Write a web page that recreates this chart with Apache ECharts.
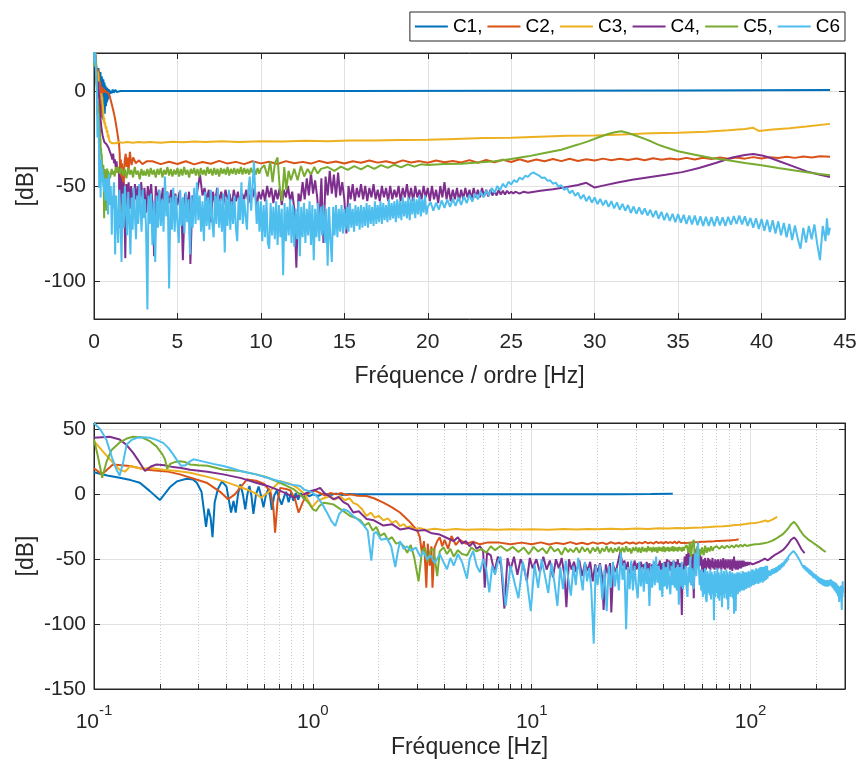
<!DOCTYPE html>
<html><head><meta charset="utf-8">
<script src="https://cdn.jsdelivr.net/npm/echarts@6/dist/echarts.min.js"></script>
<style>html,body{margin:0;padding:0;background:#fff}#c{width:860px;height:764px}</style>
</head><body><div id="c"></div>
<script>
// ---------- DATA (frequency in Hz, magnitude in dB) ----------
const seriesNames = ['C1','C2','C3','C4','C5','C6'];
const orders = [1,2,3,4,5,6];           // top plot: x = frequency / order

const c1 = [[0.1,17],[0.115,14.5],[0.131,12.8],[0.147,11],[0.162,9],[0.18,2.5],[0.2,-4.4],[0.211,0.5],[0.222,5.4],[0.239,10],[0.265,12],[0.283,11.5],[0.295,9],[0.31,2],[0.325,-25],[0.333,-11],[0.341,-18],[0.348,-33],[0.356,-6],[0.368,4],[0.384,10],[0.403,6],[0.423,-14],[0.434,-5],[0.444,-14],[0.455,0],[0.466,7.7],[0.479,0],[0.491,-11.5],[0.502,0],[0.513,6.5],[0.524,-1],[0.535,-15],[0.55,0],[0.565,6],[0.58,-1],[0.595,-10],[0.611,0],[0.627,4.5],[0.638,-2],[0.649,-12],[0.666,-1],[0.684,3],[0.702,-3],[0.72,-8],[0.738,-2],[0.755,2],[0.775,-6],[0.795,1.5],[0.815,-5],[0.835,1],[0.857,-4],[0.88,1],[0.905,-3],[0.93,0.5],[0.96,-1.5],[1.0,0],[1.06,-1.2],[1.12,0.8],[1.19,-0.9],[1.27,0.6],[1.36,-0.5],[1.46,0.3],[1.6,0],[2,0],[4,0],[8,0],[15,0],[25,0.1],[35,0.3],[44.1,0.5]];

const c2 = [[0.1,20],[0.104,18],[0.108,15.4],[0.114,18.5],[0.122,23],[0.146,21.8],[0.174,19],[0.215,17.7],[0.247,15.4],[0.327,9],[0.38,1.5],[0.41,-3.8],[0.44,0],[0.47,6],[0.5,11.5],[0.55,10.5],[0.6,8],[0.64,2],[0.66,-10],[0.672,-29.5],[0.69,-5],[0.71,5],[0.76,4],[0.79,3],[0.83,-4],[0.86,-14],[0.9,-6],[0.94,0],[0.98,2],[1.02,3],[1.08,1],[1.14,-1],[1.2,1],[1.28,0],[1.35,1],[1.42,-0.5],[1.49,0],[1.6,-1],[1.76,-1.3],[1.9,-3],[2.1,-6.4],[2.3,-10],[2.5,-14],[2.65,-18],[2.8,-22],[2.9,-25],[3.0,-28],[3.08,-33],[3.15,-45],[3.22,-36],[3.3,-72],[3.35,-38],[3.42,-55],[3.48,-40],[3.52,-72],[3.6,-41],[3.7,-36],[3.8,-33],[3.9,-40],[4.0,-35],[4.15,-42],[4.3,-32],[4.5,-39],[4.7,-35],[5.0,-38],[5.4,-36.5],[5.8,-38.5],[6.3,-37],[7,-37],[8,-38.5],[9,-37.2],[10,-38.4],[11,-37],[12,-38.6],[13,-37.4],[14,-38.3],[15,-36.8],[16,-38.2],[17,-37.3],[18,-38.5],[19,-37],[20,-38.1],[21,-37.2],[22,-38.4],[23,-36.9],[24,-38],[25,-37.3],[26,-38.2],[27,-36.8],[28,-37.9],[29,-37.1],[30,-38.2],[31,-37],[32,-37.8],[33,-36.6],[34,-37.7],[35,-37],[36,-38],[37,-36.5],[38,-37.6],[39,-36.9],[40,-37.8],[41,-36.6],[42,-37.5],[43,-36.8],[44,-37.6],[45,-36.4],[46,-37.8],[47,-36.3],[48,-37.5],[49,-36.2],[50,-37.4],[51,-35.9],[52,-37.2],[53,-36.1],[54,-37],[55,-35.8],[56,-36.9],[57,-35.7],[58,-36.8],[59,-35.9],[60,-36.6],[61,-35.6],[62,-36.5],[63,-35.7],[64,-36.3],[65,-35.5],[66,-36.4],[67,-35.4],[68,-36.2],[69,-35.5],[70,-36],[71,-35.2],[72,-36],[73,-35.1],[74,-35.8],[75,-35],[76,-35.7],[77,-35],[78,-35.6],[79,-34.8],[80,-35.5],[81,-34.8],[82,-35.3],[83,-34.6],[84,-35.2],[85,-34.5],[86,-35],[87,-34.4],[88.2,-34.6]];

const c3 = [[0.1,41],[0.11,33],[0.122,24.4],[0.131,19],[0.139,17.5],[0.146,21.8],[0.158,20.5],[0.167,19.5],[0.178,20.5],[0.207,19],[0.24,18],[0.275,16.7],[0.33,13.5],[0.39,10.2],[0.45,6.5],[0.5,3.8],[0.55,0.5],[0.58,-2.6],[0.64,3],[0.71,10.2],[0.79,8],[0.85,5],[0.92,0],[0.99,-10],[1.05,-5],[1.12,-3],[1.2,-1.5],[1.27,-4],[1.33,-1.3],[1.4,-4.5],[1.47,-3],[1.53,-6.5],[1.59,-7.7],[1.67,-11],[1.76,-16.7],[1.84,-14],[1.92,-18],[2.0,-16.5],[2.1,-20],[2.2,-18.5],[2.3,-22],[2.4,-20.5],[2.5,-24.4],[2.6,-23],[2.7,-25.5],[2.8,-24.5],[2.9,-26.9],[3.1,-26],[3.3,-27.5],[3.6,-26.5],[4,-27.5],[4.5,-26.7],[5,-27.3],[6,-26.8],[7,-27.2],[8,-26.8],[9,-27.1],[10,-26.9],[12,-27.2],[14,-26.7],[16,-27],[18,-26.6],[20,-26.9],[23,-26.5],[26,-26.8],[30,-26.4],[34,-26.6],[38,-26.2],[42,-26.4],[46,-26],[50,-26.1],[55,-25.8],[60,-25.6],[65,-25.2],[70,-24.8],[75,-24.6],[80,-24.1],[85,-23.6],[90,-23.4],[95,-22.9],[100,-22.3],[105,-22],[110,-21.4],[114,-20.7],[117,-20],[118.5,-19.4],[119.5,-21],[122,-20.3],[125,-19.6],[128,-18.7],[132.3,-17.3]];

const c4 = [[0.1,43.6],[0.118,44.4],[0.131,42.3],[0.141,38],[0.151,32],[0.161,25],[0.171,18],[0.182,21.5],[0.193,23],[0.21,22.5],[0.23,21],[0.25,20.3],[0.275,19],[0.33,17.5],[0.39,15.4],[0.47,12.5],[0.55,9],[0.62,6.5],[0.683,3.8],[0.75,1],[0.82,-2.6],[0.86,-1],[0.91,0],[0.97,2.5],[1.04,3.8],[1.08,5],[1.13,1],[1.18,-1],[1.24,-3.8],[1.31,-2],[1.38,-6],[1.45,-8],[1.53,-14],[1.62,-13],[1.76,-19],[1.9,-20],[2.1,-24],[2.3,-23],[2.5,-27],[2.75,-26],[3.0,-28],[3.25,-27.5],[3.5,-30],[3.8,-31],[4.15,-34],[4.4,-36],[4.6,-33],[4.8,-38],[5.0,-36],[5.2,-40],[5.4,-37],[5.6,-42],[5.8,-40],[6.0,-44],[6.1,-72],[6.25,-45],[6.5,-47],[6.75,-60],[7.0,-48],[7.25,-55],[7.5,-88],[7.75,-49],[8.0,-58],[8.3,-48],[8.6,-62],[8.9,-50],[9.2,-56],[9.5,-67],[9.8,-49],[10.1,-57],[10.5,-50],[10.9,-60],[11.3,-48],[11.7,-58],[12.1,-51],[12.5,-64],[12.9,-50],[13.3,-57],[13.7,-49],[14.1,-62],[14.4,-87],[14.8,-50],[15.2,-58],[15.6,-52],[16.0,-60],[16.5,-51],[17.0,-63],[17.5,-53],[18.0,-59],[18.5,-52],[19.0,-67],[19.5,-54],[20.0,-60],[20.5,-53],[21.0,-64],[21.3,-89],[21.8,-54],[22.3,-61],[22.8,-53],[23.1,-91],[23.6,-55],[24.2,-60],[24.8,-52],[25.4,-44],
[26.0,-55],[26.5,-51],[27.0,-58],[27.5,-52],[28.0,-69],[28.5,-53],[29.0,-59],[29.5,-51],[30.0,-58],[30.5,-53],
[31.0,-60],[31.5,-52],[32.0,-57],[32.5,-54],[33.0,-61],[33.5,-52],[34.0,-58],[34.5,-53],[35.0,-62],[35.5,-54],
[36.0,-57],[36.5,-52],[37.0,-59],[37.5,-54],[38.0,-56],[38.5,-51],[39.0,-61],[39.5,-53],[40.0,-57],[40.5,-52],
[41.0,-58],[41.5,-50],[42.0,-56],[42.5,-51],[43.0,-59],[43.5,-52],[44.0,-57],[44.5,-51],[45.0,-60],[45.5,-52],
[46.0,-56],[46.5,-50],[47.0,-58],[47.5,-53],[48.0,-62],[48.5,-93],[49.0,-54],[49.5,-58],[50.0,-48],[50.5,-57],
[51.0,-46],[51.5,-55],[52.0,-43],[52.5,-54],[53.0,-47],[53.5,-56],[54.0,-70],[54.5,-46],[55.0,-80],[55.5,-45],
[56.0,-55],[56.5,-42],[57.0,-54],[57.5,-44],[58.0,-56],[58.5,-43],[59.0,-55],[59.5,-48],[60.0,-57],[60.5,-75],
[61.0,-50],[61.5,-57],[62.0,-49],[62.5,-58],[63.0,-51],[63.5,-56],[64.0,-49],[64.5,-57],[65.0,-50],[65.5,-58],
[66.0,-51],[66.5,-56],[67.0,-49],[67.5,-57],[68.0,-52],[68.5,-58],[69.0,-50],[69.5,-56],[70.0,-51],[70.5,-58],
[71.0,-50],[71.5,-57],[72.0,-52],[72.5,-56],[73.0,-50],[73.5,-58],[74.0,-51],[74.5,-56],[75.0,-49],[75.5,-57],
[76.0,-51],[76.5,-58],[77.0,-50],[77.5,-56],[78.0,-52],[78.5,-57],[79.0,-50],[79.5,-56],[80.0,-51],[80.5,-58],
[81.0,-50],[81.5,-57],[82.0,-52],[82.5,-59],[83.0,-50],[83.5,-56],[84.0,-48],[84.5,-57],[85.0,-51],[85.5,-58],
[86.0,-52],[86.5,-57],[87.0,-51],[87.5,-58],[88.0,-52],[88.5,-57],[89.0,-51],[89.5,-56],[90.0,-52],[90.5,-57],
[91.0,-51],[91.5,-56],[92.0,-52],[92.5,-56],[93.0,-51],[93.5,-55.5],[94.0,-52],[94.5,-55.5],[95.0,-52],[95.5,-55],
[96.0,-52.5],[96.5,-55],[97.0,-52],[97.5,-54.5],[98.0,-52.5],[98.5,-54.5],[99.0,-52.5],[99.5,-54],[100.0,-53],[100.5,-54],
[101,-53],[102,-54],[103,-53],[104,-53.5],[107,-52.5],[110,-51.7],[113,-50.6],[116,-49.5],[118,-48.3],[120,-50.8],[122,-49.8],[125.5,-48.2],[129,-46.7],[133,-45.4],[137,-44.1],[141,-42.7],[145,-40.5],[149,-37.9],[153,-35],[156,-33.7],[158,-33.2],[160.4,-34.1],[162.5,-35.5],[164.4,-37.1],[167.6,-39.7],[170.8,-42.3],[173.5,-43.8],[176.4,-45.3]];

const c5 = [[0.1,42.3],[0.104,30],[0.109,12.8],[0.114,25],[0.12,34],[0.131,40],[0.141,43],[0.151,44.4],[0.165,44],[0.18,41],[0.193,37],[0.205,31],[0.211,27],[0.216,19.8],[0.223,23.5],[0.235,25],[0.247,25.6],[0.26,25],[0.275,23],[0.3,22.5],[0.33,22],[0.39,19],[0.466,18],[0.55,15.4],[0.62,13],[0.683,10],[0.75,7],[0.82,3.8],[0.91,-2.6],[0.96,-7],[1.0,-11.5],[1.035,-12.8],[1.07,-9],[1.12,-6.4],[1.18,-7],[1.24,-7.7],[1.3,-10],[1.38,-13],[1.48,-16.7],[1.56,-18],[1.65,-20],[1.72,-24],[1.8,-22],[1.88,-28],[1.95,-25],[2.03,-32],[2.12,-30],[2.2,-35],[2.3,-33],[2.4,-38],[2.5,-37],[2.6,-40],[2.7,-45],[2.8,-39],[2.9,-48],[3.04,-67],[3.15,-44],[3.25,-41],[3.35,-52],[3.45,-43],[3.56,-42],[3.7,-63],[3.8,-44],[3.95,-40.8],[4.1,-46],[4.25,-42],[4.4,-48],[4.6,-43],[4.8,-46],[5.07,-47],[5.3,-41],[5.6,-44],[5.9,-42],[6.2,-45],[6.5,-40],[6.8,-43],[7.2,-39.8],[7.7,-43.5],[8.2,-40.5],[8.7,-44.5],[9.2,-41],[9.7,-46],[10.2,-40.5],[10.7,-44],[11.2,-41.5],[11.7,-45.5],[12.2,-40],[12.7,-44],[13.2,-42],[13.7,-46.5],[14.2,-41],[14.7,-44.5],
[15.0,-42],[15.5,-44.5],[16.0,-41],[16.5,-45],[17.0,-40.5],[17.5,-44],[18.0,-41.5],[18.5,-45.5],[19.0,-41],[19.5,-44],
[20.0,-40.5],[20.5,-45.5],[21.0,-41.5],[21.5,-44],[22.0,-40],[22.5,-44.5],[23.0,-41],[23.5,-45],[24.0,-41.5],[24.5,-44],
[25.0,-40.5],[25.5,-45],[26.0,-41],[26.5,-44.5],[27.0,-40],[27.5,-44],[28.0,-41.5],[28.5,-45.5],[29.0,-41],[29.5,-43.5],
[30.0,-40.5],[30.5,-44.5],[31.0,-41],[31.5,-45],[32.0,-40.5],[32.5,-44],[33.0,-41.5],[33.5,-44.5],[34.0,-40],[34.5,-43.5],
[35.0,-41],[35.5,-44.5],[36.0,-40.5],[36.5,-44],[37.0,-41],[37.5,-45],[38.0,-40.5],[38.5,-43.5],[39.0,-41],[39.5,-44],
[40.0,-40],[40.5,-44.5],[41.0,-41],[41.5,-43.5],[42.0,-40.5],[42.5,-44],[43.0,-41],[43.5,-43.5],[44.0,-40],[44.5,-44],
[45.0,-40.5],[45.5,-43.5],[46.0,-41],[46.5,-44],[47.0,-40.5],[47.5,-43],[48.0,-41],[48.5,-44],[49.0,-40.5],[49.5,-43.5],
[50,-41],[51,-39],[52,-45],[52.8,-37],[53.5,-48],[54.2,-38],[55,-35],[55.6,-50],[56.3,-58],[57,-40],[57.6,-52],[58.3,-42],[59,-47],[60,-41],[61,-47],[62,-39.5],[63,-45],[64,-41],[65,-44],[66,-40],[67,-43.5],[68,-41],[70,-40],[72,-42],[74,-39.8],[76,-41.5],[78,-39.5],[80,-41.2],[82,-39.3],[84,-41],[86,-39],[88,-40.5],[90,-38.8],[92,-40.2],[94,-38.6],[96,-39.8],[98,-38.6],[100,-39],[105,-38.4],[110,-38.3],[115,-37.6],[120,-37],[125,-35.8],[130,-34.4],[135,-32.6],[140,-30.9],[145,-28.2],[148,-26.5],[151,-24.5],[154,-22.6],[156,-21.7],[158,-21.2],[160,-22.1],[162,-23.3],[165,-25.2],[167,-26.6],[169,-28.2],[171,-29.5],[175,-31.7],[180,-33.5],[185,-35.3],[190,-36.5],[195,-37.9],[200,-39.1],[205,-40.5],[210,-41.8],[215,-43.2],[220.5,-44.4]];

const c6 = [[0.1,55],[0.107,50],[0.114,42],[0.121,28],[0.126,20],[0.131,14.6],[0.136,25],[0.141,38.5],[0.149,42],[0.157,43.6],[0.168,44],[0.18,43.6],[0.193,42],[0.207,39.7],[0.218,36],[0.23,30.8],[0.24,26],[0.25,22],[0.255,20.5],[0.262,22.5],[0.272,25],[0.285,27],[0.31,25.6],[0.35,23.5],[0.39,21.8],[0.43,20],[0.466,18],[0.55,15.4],[0.66,11.5],[0.79,7.7],[0.875,6.5],[0.91,3.8],[0.96,2.5],[1.0,1.3],[1.04,-1.3],[1.1,-7],[1.16,-14],[1.21,-20],[1.265,-24.4],[1.32,-15],[1.38,-11.5],[1.45,-13],[1.53,-16.7],[1.62,-20],[1.7,-23.5],[1.78,-28],[1.85,-51],[1.9,-30],[1.95,-29],[2.05,-35],[2.18,-34],[2.28,-40],[2.38,-56],[2.44,-45],[2.5,-36],[2.6,-42],[2.7,-40],[2.8,-43.6],[2.95,-41],[3.1,-48],[3.2,-44],[3.32,-50],[3.45,-47],[3.6,-53],[3.8,-46],[3.95,-52],[4.1,-57.7],[4.25,-49],[4.4,-55],[4.6,-46],[4.8,-52],[5.06,-65],[5.2,-50],[5.4,-43.6],[5.6,-55],[5.8,-60],[6.0,-50],[6.2,-58],[6.4,-75.6],[6.6,-55],[6.8,-62],[7.0,-52],[7.2,-48],[7.6,-86],[8.0,-55],[8.4,-70],[8.7,-80],[9.1,-52],[9.5,-66],[9.9,-90],[10.3,-54],[10.7,-72],[11.1,-50],[11.5,-63],[11.9,-76],[12.3,-53],[12.7,-68],[13.1,-86],[13.5,-56],[13.9,-73],[14.3,-51],[14.7,-65],[15.1,-78],[15.5,-55],[15.9,-70],[16.3,-49],[16.7,-62],[17.1,-74],[17.5,-52],[17.9,-67],[18.3,-57],[18.7,-72],[19.2,-115],[19.6,-55],
[20.0,-70],[20.5,-54],[21.0,-81],[21.5,-58],[22.0,-90],[22.5,-55],[23.0,-72],[23.5,-52],[24.0,-71],[24.5,-57],
[25.0,-74],[25.5,-45],[26.0,-66],[26.5,-53],[27.0,-104],[27.5,-56],[28.0,-73],[28.5,-51],[29.0,-74],[29.5,-55],
[30.0,-70],[30.5,-80],[31.0,-52],[31.5,-71],[32.0,-56],[32.5,-75],[33.0,-53],[33.5,-69],[34.0,-57],[34.5,-86],
[35.0,-55],[35.5,-72],[36.0,-51],[36.5,-70],[37.0,-48],[37.5,-68],[38.0,-55],[38.5,-74],[39.0,-58],[39.5,-79],
[40.0,-53],[40.5,-71],[41.0,-56],[41.5,-73],[42.0,-52],[42.5,-69],[43.0,-77],[43.5,-55],[44.0,-70],[44.5,-51],
[45.0,-72],[45.5,-57],[46.0,-74],[46.5,-54],[47.0,-85],[47.5,-56],[48.0,-71],[48.5,-52],[49.0,-73],[49.5,-58],
[50.0,-70],[50.5,-55],[51.0,-72],[51.5,-79],[52.0,-56],[52.5,-68],[53.0,-48],[53.5,-70],[54.0,-57],[54.5,-66],
[55.0,-73],[55.5,-52],[56.0,-45],[56.5,-63],[57.0,-50],[57.5,-37],[58.0,-55],[58.5,-70],[59.0,-58],[59.5,-74],
[60.0,-58],[60.5,-79],[61.0,-60],[61.5,-77],[62.0,-57],[62.5,-80],[63.0,-83],[63.5,-59],[64.0,-76],[64.5,-61],
[65.0,-78],[65.5,-58],[66.0,-81],[66.5,-60],[67.0,-77],[67.5,-62],[68.0,-97],[68.5,-59],[69.0,-79],[69.5,-61],
[70.0,-76],[70.5,-57],[71.0,-80],[71.5,-60],[72.0,-82],[72.5,-62],[73.0,-78],[73.5,-58],[74.0,-87],[74.5,-61],
[75.0,-77],[75.5,-59],[76.0,-80],[76.5,-62],[77.0,-76],[77.5,-58],[78.0,-81],[78.5,-60],[79.0,-89],[79.5,-62],
[80.0,-77],[80.5,-59],[81.0,-79],[81.5,-61],[82.0,-76],[82.5,-60],[83.0,-80],[83.5,-62],[84.0,-92],[84.5,-61],
[85.0,-78],[85.5,-90],[86.0,-61],[86.5,-76],[87.0,-60],[87.5,-77],[88.0,-62],[88.5,-74],[89.0,-60],[89.5,-75],
[90.0,-62],[90.5,-73],[91.0,-61],[91.5,-74],[92.0,-59],[92.5,-72],[93.0,-62],[93.5,-74],[94.0,-60],[94.5,-71],
[95.0,-61],[95.5,-73],[96.0,-60],[96.5,-72],[97.0,-61],[97.5,-71],[98.0,-59],[98.5,-72],[99.0,-60],[99.5,-70],
[100.0,-61],[100.5,-71],[101.0,-58],[101.5,-70],[102.0,-60],[102.5,-69],[103.0,-58],[103.5,-70],[104.0,-59],[104.5,-68],
[105.0,-60],[105.5,-69],[106.0,-57],[106.5,-68],[107.0,-59],[107.5,-67],[108.0,-58],[108.5,-69],[109.0,-57],[109.5,-67],
[110.0,-58],[110.5,-68],[111.0,-56],[111.5,-66],[112.0,-58],[112.5,-67],[113.0,-56],[113.5,-68],[114.0,-57],[114.5,-65],
[115.0,-56],[115.5,-67],[116.0,-57],[116.5,-65],[117.0,-55],[117.5,-66],[118.0,-57],[118.5,-64],[119.0,-55],[119.5,-65],
[120,-61],[121,-58.5],[122,-63],[123,-58.8],[124,-62.4],[125,-57.6],[126,-61.5],[127,-57.2],[128,-61],[129,-56.8],
[130,-60.5],[131,-56],[132,-60],[133,-55.5],[134,-59],[135,-54.6],[136,-58.2],[137,-54],[138,-57],[139,-53],
[140,-56],[141,-52.4],[142,-55],[143,-51],[144,-53.6],[145,-50],[146,-52.2],[147,-48.8],[148,-50.8],[149,-47.8],
[150,-49.2],[151,-46.8],[152,-48],[153,-45.5],[154,-46.6],[155,-44.6],[156,-45.2],[157,-43.6],[158,-42.8],[159,-43.8],
[160,-44.5],[161,-45.8],[162,-45.5],[163,-47.2],[164,-47],[165,-48.8],[166,-48.2],[167,-50.3],[168,-49.6],[169,-52],
[170,-51],[171,-53.8],[172,-52.4],[173,-55.2],[174,-53.5],[175,-56.8],[176,-54.6],[177,-58],[178,-55.4],[179,-58.8],
[180,-56],[181,-59.6],[182,-56.8],[183,-60.2],[184,-57.5],[185,-61],[186,-58],[187,-61.8],[188,-58.6],[189,-62.5],
[190,-59.4],[191,-63],[192,-60],[193,-64.2],[194,-60.8],[195,-64.6],[196,-61.2],[197,-65],[198,-61.8],[199,-65.5],
[200,-62.5],[201,-66.4],[202,-63],[203,-67.2],[204,-63.6],[205,-68],[206,-64.2],[207,-68.4],[208,-64.6],[209,-69],
[210,-64.8],[211,-69.3],[212,-65.2],[213,-70],[214,-65.5],[215,-70.2],[216,-65.6],[217,-70.6],[218,-66],[219,-71],
[220,-66.2],[221,-71],[222,-66.4],[223,-71.2],[224,-66],[225,-70.8],[226,-66.5],[227,-71],[228,-66.2],[229,-70.4],
[230,-65.8],[231,-70],[232,-65.5],[233,-70.2],[234,-66],[235,-71],[236,-66.8],[237,-72],[238,-67],[239,-72.6],
[240,-67.4],[241,-73.5],[242,-67.8],[243,-74.2],[244,-68],[245,-75],[246,-68.6],[247,-76],[248,-69.5],[249,-77],
[250,-70],[251,-78.5],[252,-70.8],[253,-77.6],[254,-83],[255,-72],[256,-79.8],[257,-71],[258,-78],[259,-70.2],
[260,-80.5],[261,-89],[262,-71],[263,-79],[263.5,-67],[264,-76],[264.6,-72]];

// ---------- AXIS TICKS ----------
const topXRange = [0, 45];
const topYRange = [-120, 20];
const topYTicks = [-100, -50, 0];
const bottomXRange = [0.1, 270];
const bottomYRange = [-150, 55];
const bottomYTicks = [-150, -100, -50, 0, 50];
const logMajorTicks = [0.1, 1, 10, 100];
const logMinorTicks = [0.2,0.3,0.4,0.5,0.6,0.7,0.8,0.9,2,3,4,5,6,7,8,9,20,30,40,50,60,70,80,90,200];

// ---------- STYLE ----------
const colors = ['#0072BD','#D95319','#EDB120','#7E2F8E','#77AC30','#4DBEEE'];
const AX = '#262626', GRIDC = '#e1e1e1', MINORC = '#cdcdcd';
const FONT = '"Liberation Sans", Arial, Helvetica, sans-serif';

const allData = [c1, c2, c3, c4, c5, c6];
const series = [];

function gridLines(name, xi, yi, items, style) {
  return {
    type: 'line', name: name, xAxisIndex: xi, yAxisIndex: yi, data: [], z: 0, zlevel: 0, silent: true,
    markLine: { z: 0, silent: true, symbol: 'none', animation: false, label: { show: false },
      lineStyle: style, data: items }
  };
}
series.push(gridLines('gridTop', 0, 0, topYTicks.map(v => ({ yAxis: v })), { color: GRIDC, width: 1, type: 'solid' }));
series.push(gridLines('gridBottomMinor', 2, 2, logMinorTicks.map(v => ({ xAxis: v })), { color: MINORC, width: 1, type: [1, 2] }));
series.push(gridLines('gridBottomMajor', 2, 2, logMajorTicks.map(v => ({ xAxis: v })).concat(bottomYTicks.map(v => ({ yAxis: v }))), { color: GRIDC, width: 1, type: 'solid' }));

allData.forEach((d, i) => {
  const base = {
    type: 'line', name: seriesNames[i], symbol: 'none', showSymbol: false,
    lineStyle: { width: 2, color: colors[i] }, itemStyle: { color: colors[i] },
    animation: false, clip: true, emphasis: { disabled: true }, z: 3, silent: true
  };
  series.push(Object.assign({}, base, { xAxisIndex: 0, yAxisIndex: 0, data: d.map(p => [p[0] / orders[i], p[1]]) }));
  series.push(Object.assign({}, base, { xAxisIndex: 2, yAxisIndex: 2, data: d.map(p => [p[0], p[1]]) }));
});

const axLine = { show: true, onZero: false, lineStyle: { color: AX, width: 1 } };
const tick = { show: true, inside: true, length: 6, lineStyle: { color: AX, width: 1 } };
const lbl = { color: AX, fontSize: 21, fontFamily: FONT };
const nameStyle = { color: AX, fontSize: 23, fontFamily: FONT };
const supFmt = v => '{b|10}{s|' + Math.round(Math.log10(v)) + '}';
const supRich = { b: { fontSize: 21, color: AX, fontFamily: FONT, lineHeight: 30, verticalAlign: 'bottom' },
                  s: { fontSize: 15, color: AX, fontFamily: FONT, lineHeight: 15, verticalAlign: 'top' } };

const option = {
  animation: false,
  backgroundColor: '#fff',
  textStyle: { fontFamily: FONT },
  legend: {
    data: seriesNames, top: 12, right: 15, orient: 'horizontal', icon: 'rect',
    itemWidth: 33, itemHeight: 2, itemGap: 5, padding: [5, 5, 5, 5],
    borderColor: AX, borderWidth: 1, backgroundColor: '#fff',
    textStyle: { fontSize: 19, color: '#000', fontFamily: FONT },
    formatter: n => (n === 'C6' ? n : n + ','), selectedMode: false
  },
  grid: [
    { left: 94, right: 15, top: 53, height: 266, show: true, borderColor: AX, borderWidth: 1, containLabel: false, outerBoundsMode: 'none' },
    { left: 94, right: 15, top: 423, height: 266, show: true, borderColor: AX, borderWidth: 1, containLabel: false, outerBoundsMode: 'none' }
  ],
  xAxis: [
    { gridIndex: 0, type: 'value', position: 'bottom', min: topXRange[0], max: topXRange[1], interval: 5,
      axisLine: axLine, axisTick: tick, axisLabel: Object.assign({ margin: 13 }, lbl),
      splitLine: { show: true, lineStyle: { color: GRIDC, width: 1 } },
      name: 'Fréquence / ordre [Hz]', nameLocation: 'middle', nameGap: 46, nameMoveOverlap: false, nameTextStyle: nameStyle },
    { gridIndex: 0, type: 'value', position: 'top', min: topXRange[0], max: topXRange[1], interval: 5,
      axisLine: axLine, axisTick: tick, axisLabel: { show: false }, splitLine: { show: false } },
    { gridIndex: 1, type: 'log', logBase: 10, position: 'bottom', min: bottomXRange[0], max: bottomXRange[1],
      axisLine: axLine,
      axisTick: Object.assign({}, tick, { length: 5, customValues: logMajorTicks.concat(logMinorTicks) }),
      axisLabel: { customValues: logMajorTicks, formatter: supFmt, rich: supRich, margin: 14 },
      splitLine: { show: false }, minorTick: { show: false }, minorSplitLine: { show: false },
      name: 'Fréquence [Hz]', nameLocation: 'middle', nameGap: 47, nameMoveOverlap: false, nameTextStyle: nameStyle },
    { gridIndex: 1, type: 'log', logBase: 10, position: 'top', min: bottomXRange[0], max: bottomXRange[1],
      axisLine: axLine,
      axisTick: Object.assign({}, tick, { length: 5, customValues: logMajorTicks.concat(logMinorTicks) }),
      axisLabel: { show: false }, splitLine: { show: false } }
  ],
  yAxis: [
    { gridIndex: 0, type: 'value', position: 'left', min: topYRange[0], max: topYRange[1],
      axisLine: axLine, axisTick: Object.assign({}, tick, { customValues: topYTicks }),
      axisLabel: Object.assign({ margin: 8, customValues: topYTicks }, lbl),
      splitLine: { show: false },
      name: '[dB]', nameLocation: 'middle', nameGap: 56, nameMoveOverlap: false, nameTextStyle: nameStyle },
    { gridIndex: 0, type: 'value', position: 'right', min: topYRange[0], max: topYRange[1],
      axisLine: axLine, axisTick: Object.assign({}, tick, { customValues: topYTicks }),
      axisLabel: { show: false }, splitLine: { show: false } },
    { gridIndex: 1, type: 'value', position: 'left', min: bottomYRange[0], max: bottomYRange[1],
      axisLine: axLine, axisTick: Object.assign({}, tick, { customValues: bottomYTicks }),
      axisLabel: Object.assign({ margin: 8, customValues: bottomYTicks }, lbl),
      splitLine: { show: false },
      name: '[dB]', nameLocation: 'middle', nameGap: 56, nameMoveOverlap: false, nameTextStyle: nameStyle },
    { gridIndex: 1, type: 'value', position: 'right', min: bottomYRange[0], max: bottomYRange[1],
      axisLine: axLine, axisTick: Object.assign({}, tick, { customValues: bottomYTicks }),
      axisLabel: { show: false }, splitLine: { show: false } }
  ],
  series: series
};

const chart = echarts.init(document.getElementById('c'), null, { renderer: 'canvas', width: 860, height: 764 });
chart.setOption(option);
</script>
</body></html>
